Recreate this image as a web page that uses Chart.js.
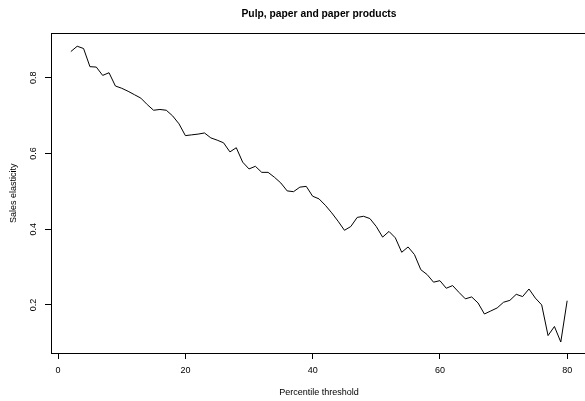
<!DOCTYPE html>
<html>
<head>
<meta charset="utf-8">
<script src="https://cdn.jsdelivr.net/npm/chart.js@4/dist/chart.umd.min.js"></script>
<style>
  html, body { margin: 0; padding: 0; background: #fff; overflow: hidden; }
  #wrap { width: 600px; height: 401px; }
</style>
</head>
<body>
<div id="wrap"><canvas id="chart" width="600" height="401"></canvas></div>
<script>
const thresholds = [
  2, 3, 4, 5, 6, 7, 8, 9, 10, 11, 12, 13, 14, 15, 16, 17, 18, 19, 20, 21,
  22, 23, 24, 25, 26, 27, 28, 29, 30, 31, 32, 33, 34, 35, 36, 37, 38, 39, 40, 41,
  42, 43, 44, 45, 46, 47, 48, 49, 50, 51, 52, 53, 54, 55, 56, 57, 58, 59, 60, 61,
  62, 63, 64, 65, 66, 67, 68, 69, 70, 71, 72, 73, 74, 75, 76, 77, 78, 79, 80
];
const elasticity = [
  0.869, 0.883, 0.877, 0.829, 0.828, 0.806, 0.813, 0.778, 0.772, 0.764,
  0.755, 0.746, 0.729, 0.714, 0.716, 0.714, 0.699, 0.678, 0.647, 0.649,
  0.651, 0.654, 0.641, 0.635, 0.628, 0.604, 0.615, 0.577, 0.559, 0.566,
  0.550, 0.550, 0.537, 0.522, 0.501, 0.499, 0.511, 0.513, 0.487, 0.480,
  0.463, 0.443, 0.421, 0.397, 0.407, 0.431, 0.434, 0.428, 0.407, 0.379,
  0.394, 0.377, 0.339, 0.353, 0.333, 0.293, 0.280, 0.260, 0.264, 0.244,
  0.251, 0.233, 0.216, 0.221, 0.205, 0.176, 0.184, 0.192, 0.207, 0.212,
  0.228, 0.222, 0.242, 0.218, 0.200, 0.119, 0.143, 0.102, 0.211
];
const xTicks = [0, 20, 40, 60, 80];
const yTicks = [0.2, 0.4, 0.6, 0.8];

const FONT = '"Liberation Sans", Arial, Helvetica, sans-serif';

// box round the plot region, and the y tick labels written along the axis
const framePlugin = {
  id: 'frame',
  afterDraw(chart) {
    const { ctx, chartArea: a, scales: { y } } = chart;
    ctx.save();
    ctx.strokeStyle = '#000';
    ctx.lineWidth = 1;
    ctx.strokeRect(Math.round(a.left) + 0.5, Math.round(a.top) + 0.5,
                   Math.round(a.right - a.left), Math.round(a.bottom - a.top));
    ctx.fillStyle = '#000';
    ctx.font = '9px ' + FONT;
    ctx.textAlign = 'center';
    ctx.textBaseline = 'middle';
    yTicks.forEach(v => {
      const py = y.getPixelForValue(v);
      ctx.save();
      ctx.translate(34, py);
      ctx.rotate(-Math.PI / 2);
      ctx.fillText(v.toFixed(1), 0, 0);
      ctx.restore();
    });
    ctx.restore();
  }
};

const ctx = document.getElementById('chart').getContext('2d');
new Chart(ctx, {
  type: 'line',
  data: {
    datasets: [{
      data: thresholds.map((t, i) => ({ x: t, y: elasticity[i] })),
      borderColor: '#000',
      borderWidth: 1,
      pointRadius: 0,
      tension: 0,
      fill: false
    }]
  },
  options: {
    responsive: false,
    animation: false,
    layout: { padding: { left: 0, right: 13, top: 0, bottom: 0 } },
    plugins: {
      legend: { display: false },
      tooltip: { enabled: false },
      title: {
        display: true,
        fullSize: false,
        text: 'Pulp, paper and paper products',
        color: '#000',
        font: { family: FONT, size: 10.3, weight: 'bold' },
        padding: { top: 8, bottom: 13 }
      }
    },
    scales: {
      x: {
        type: 'linear',
        min: -1.12,
        max: 83.12,
        afterBuildTicks: s => { s.ticks = xTicks.map(v => ({ value: v })); },
        afterFit: s => { s.height = 48; },
        grid: { drawOnChartArea: false, drawTicks: true, tickLength: 6, color: '#000' },
        border: { display: true, color: '#000', width: 1 },
        ticks: { color: '#000', padding: 6, maxRotation: 0, font: { family: FONT, size: 9 } },
        title: {
          display: true,
          text: 'Percentile threshold',
          color: '#000',
          font: { family: FONT, size: 9 },
          padding: { top: 0, bottom: 3 }
        }
      },
      y: {
        type: 'linear',
        min: 0.073,
        max: 0.917,
        afterBuildTicks: s => { s.ticks = yTicks.map(v => ({ value: v })); },
        afterFit: s => { s.width = 51; },
        grid: { drawOnChartArea: false, drawTicks: true, tickLength: 6, color: '#000' },
        border: { display: true, color: '#000', width: 1 },
        ticks: { display: false },
        title: {
          display: true,
          text: 'Sales elasticity',
          color: '#000',
          font: { family: FONT, size: 9 },
          padding: { top: 8, bottom: 0 }
        }
      }
    }
  },
  plugins: [framePlugin]
});
</script>
</body>
</html>
